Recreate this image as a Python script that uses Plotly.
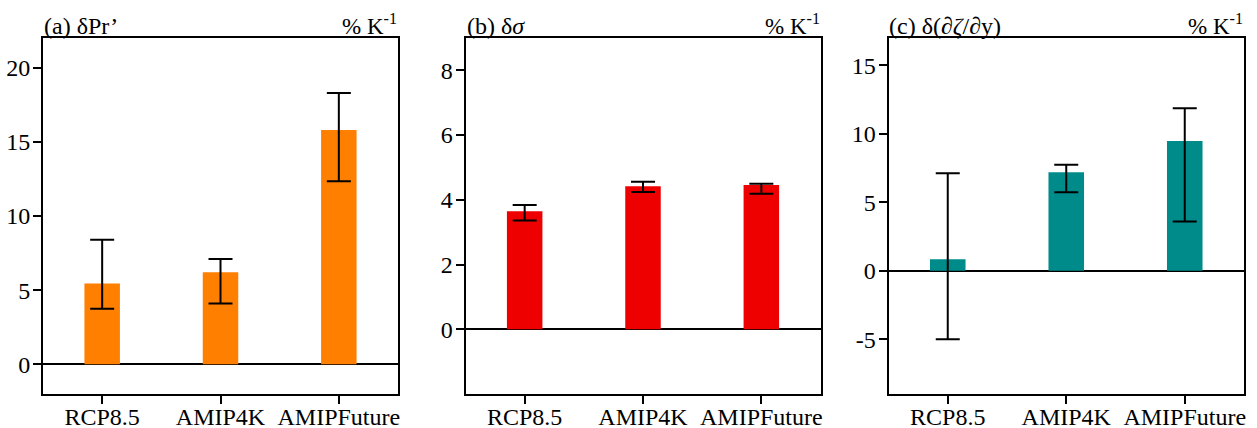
import plotly.graph_objects as go

categories = ["RCP8.5", "AMIP4K", "AMIPFuture"]

# Panel (a) dPr'
a_values = [5.45, 6.2, 15.8]
a_upper = [8.4, 7.1, 18.3]
a_lower = [3.75, 4.1, 12.35]

# Panel (b) d sigma
b_values = [3.65, 4.42, 4.46]
b_upper = [3.84, 4.56, 4.5]
b_lower = [3.36, 4.24, 4.19]

# Panel (c) d(dzeta/dy)
c_values = [0.85, 7.2, 9.48]
c_upper = [7.12, 7.75, 11.87]
c_lower = [-5.0, 5.73, 3.6]

a_ticks = [0, 5, 10, 15, 20]
b_ticks = [0, 2, 4, 6, 8]
c_ticks = [-5, 0, 5, 10, 15]
a_ticktext = ["0", "5", "10", "15", "20"]
b_ticktext = ["0", "2", "4", "6", "8"]
c_ticktext = ["-5", "0", "5", "10", "15"]

titles = ["(a) δPr’", "(b) δ<i>σ</i>", "(c) δ(<i>∂ζ</i>/<i>∂</i>y)"]
unit = "% K<sup>-1</sup>"

colors = ["#FF7F00", "#EE0000", "#008B8B"]

W, H = 1257, 428
FONT = "Liberation Serif, Times New Roman, DejaVu Serif, serif"

panels = [
    (a_values, a_upper, a_lower, a_ticks, a_ticktext, [-2, 22], (43, 398)),
    (b_values, b_upper, b_lower, b_ticks, b_ticktext, [-2, 9], (465.5, 820.5)),
    (c_values, c_upper, c_lower, c_ticks, c_ticktext, [-9, 17], (888.5, 1244)),
]

top_px, bot_px = 38, 394
ydom = [(H - bot_px) / H, (H - top_px) / H]

fig = go.Figure()
layout = dict(
    width=W, height=H,
    margin=dict(l=0, r=0, t=0, b=0, autoexpand=False),
    paper_bgcolor="white", plot_bgcolor="white",
    showlegend=False,
    font=dict(family=FONT, size=24, color="black"),
    annotations=[],
)

for i, (vals, up, lo, tv, tt, yr, (x0, x1)) in enumerate(panels):
    n = "" if i == 0 else str(i + 1)
    fig.add_trace(go.Bar(
        x=categories, y=vals,
        marker=dict(color=colors[i], line=dict(width=0)),
        width=0.3,
        error_y=dict(
            type="data", symmetric=False,
            array=[u - v for u, v in zip(up, vals)],
            arrayminus=[v - l for v, l in zip(vals, lo)],
            color="black", thickness=2, width=12,
        ),
        xaxis="x" + n, yaxis="y" + n,
    ))
    layout["xaxis" + n] = dict(
        domain=[x0 / W, x1 / W], anchor="y" + n,
        range=[-0.5, 2.5], type="category",
        showline=True, mirror=True, linecolor="black", linewidth=2,
        ticks="outside", ticklen=8, tickwidth=2, tickcolor="black",
        showgrid=False, zeroline=False, automargin=False,
        ticklabelstandoff=-8,
        tickfont=dict(family=FONT, size=24),
    )
    layout["yaxis" + n] = dict(
        domain=ydom, anchor="x" + n,
        range=yr, tickvals=tv, ticktext=tt,
        showline=True, mirror=True, linecolor="black", linewidth=2,
        ticks="outside", ticklen=8, tickwidth=2, tickcolor="black",
        showgrid=False, zeroline=True, zerolinecolor="black", zerolinewidth=2,
        automargin=False, ticklabelstandoff=-2,
        tickfont=dict(family=FONT, size=24),
    )
    layout["annotations"].append(dict(
        text=titles[i], xref="paper", yref="paper",
        x=(x0 - 1) / W, y=(H - top_px - 3) / H,
        xanchor="left", yanchor="bottom", showarrow=False,
        font=dict(family=FONT, size=24),
    ))
    layout["annotations"].append(dict(
        text=unit, xref="paper", yref="paper",
        x=(x1 + 1) / W, y=(H - top_px - 3) / H,
        xanchor="right", yanchor="bottom", showarrow=False,
        font=dict(family=FONT, size=23),
    ))

fig.update_layout(**layout)
fig.write_html("out.html")
